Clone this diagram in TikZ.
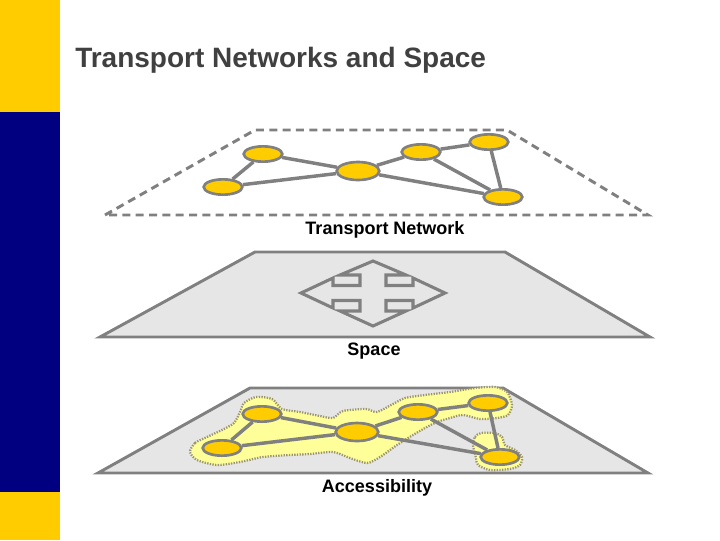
\documentclass[tikz,border=0pt]{standalone}
\usepackage{fontspec}
\setmainfont{Liberation Sans}
\usetikzlibrary{shapes.geometric}
\definecolor{gold}{HTML}{FFCC00}
\definecolor{navyblue}{HTML}{000080}
\definecolor{linegray}{HTML}{808080}
\definecolor{planefill}{HTML}{E6E6E6}
\definecolor{blobyellow}{HTML}{FFFF99}
\definecolor{blobedge}{HTML}{9C9470}
\definecolor{titlegray}{HTML}{404040}
\begin{document}
\begin{tikzpicture}[x=0.75pt,y=-0.75pt,
  plane/.style={draw=linegray, line width=2.2pt, fill=planefill, line join=miter},
  dashplane/.style={draw=linegray, line width=2.2pt, dash pattern=on 6pt off 4pt},
  netnode/.style={ellipse, draw=linegray, line width=2pt, fill=gold, inner sep=0pt,
    minimum width=29pt, minimum height=11.5pt},
  bignode/.style={netnode, minimum width=32pt, minimum height=13.5pt},
  edge/.style={draw=linegray, line width=2.6pt},
  blob/.style={fill=blobyellow, draw=blobedge, line width=1.7pt, dash pattern=on 1pt off 1pt},
  lbl/.style={font=\fontsize{13.5}{16}\selectfont\bfseries, inner sep=0pt, anchor=base},
  crossline/.style={draw=linegray, line width=2.3pt, line join=miter}]
\useasboundingbox (0,0) rectangle (720,540);
% side bar
\fill[gold] (0,0) rectangle (60,112);
\fill[navyblue] (0,112) rectangle (60,492);
\fill[gold] (0,492) rectangle (60,540);
% title
\node[anchor=base west, inner sep=0pt, text=titlegray,
  font=\fontsize{21}{25}\selectfont\bfseries] (title) at (75,67) {Transport Networks and Space};

% ---------- top plane (transport network) ----------
\draw[dashplane] (105,215) -- (255,130) -- (507,130) -- (648,215) -- cycle;
\node[netnode] (t1) at (263,154) {};
\node[netnode] (t2) at (223,187) {};
\node[bignode] (t3) at (358,171) {};
\node[netnode] (t4) at (421,152) {};
\node[netnode] (t5) at (489,142) {};
\node[netnode] (t6) at (503,197) {};
\draw[edge] (t2) -- (t1);
\draw[edge] (t1) -- (t3);
\draw[edge] (t2) -- (t3);
\draw[edge] (t3) -- (t4);
\draw[edge] (t4) -- (t5);
\draw[edge] (t4) -- (t6);
\draw[edge] (t3) -- (t6);
\draw[edge] (t5) -- (t6);
\node[lbl] (lblnet) at (385,234) {Transport Network};

% ---------- middle plane (space) ----------
\draw[plane] (100,337) -- (255,252) -- (505,252) -- (650,337) -- cycle;
\begin{scope}[shift={(373,293)}]
\draw[crossline] (-72,0) -- (-40,-15) -- (-40,-7.5) -- (-13,-7.5) -- (-13,-18) -- (-33,-18)
  -- (0,-32) -- (33,-18) -- (13,-18) -- (13,-7.5) -- (40,-7.5) -- (40,-15) -- (72,0)
  -- (40,15) -- (40,7.5) -- (13,7.5) -- (13,18) -- (33,18) -- (0,33) -- (-33,18)
  -- (-13,18) -- (-13,7.5) -- (-40,7.5) -- (-40,15) -- cycle;
\end{scope}
\node[lbl] (lblspace) at (374,355) {Space};

% ---------- bottom plane (accessibility) ----------
\draw[plane] (98,473) -- (250,388) -- (503,388) -- (648,473) -- cycle;
\path[blob] plot[smooth cycle, tension=0.45] coordinates {
  (190,452) (195,443) (207,437) (222,430) (234,423) (240,412) (244,403) (256,397)
  (272,399) (282,409) (300,412) (320,416) (333,418) (343,411) (366,409) (377,412)
  (393,404) (405,398) (425,395) (450,392) (475,388) (495,387) (507,392) (512,405)
  (508,415) (497,418) (480,419) (463,415) (450,418) (437,422) (425,428) (413,435)
  (397,445) (380,457) (367,463) (350,458) (333,452) (310,454) (290,455) (263,457)
  (240,462) (217,465) (197,460)};
\path[blob] plot[smooth cycle, tension=0.45] coordinates {
  (473,445) (475,437) (481,433) (495,433) (502,437) (505,445) (515,450) (522,457)
  (520,465) (510,469) (490,470) (478,465) (476,458)};
\node[netnode] (b1) at (262,414) {};
\node[netnode] (b2) at (222,448) {};
\node[bignode] (b3) at (357,432) {};
\node[netnode] (b4) at (418,412) {};
\node[netnode] (b5) at (488,403) {};
\node[netnode] (b6) at (500,457) {};
\draw[edge] (b2) -- (b1);
\draw[edge] (b1) -- (b3);
\draw[edge] (b2) -- (b3);
\draw[edge] (b3) -- (b4);
\draw[edge] (b4) -- (b5);
\draw[edge] (b4) -- (b6);
\draw[edge] (b3) -- (b6);
\draw[edge] (b5) -- (b6);
\node[lbl] (lblacc) at (377,492) {Accessibility};
\end{tikzpicture}
\end{document}
